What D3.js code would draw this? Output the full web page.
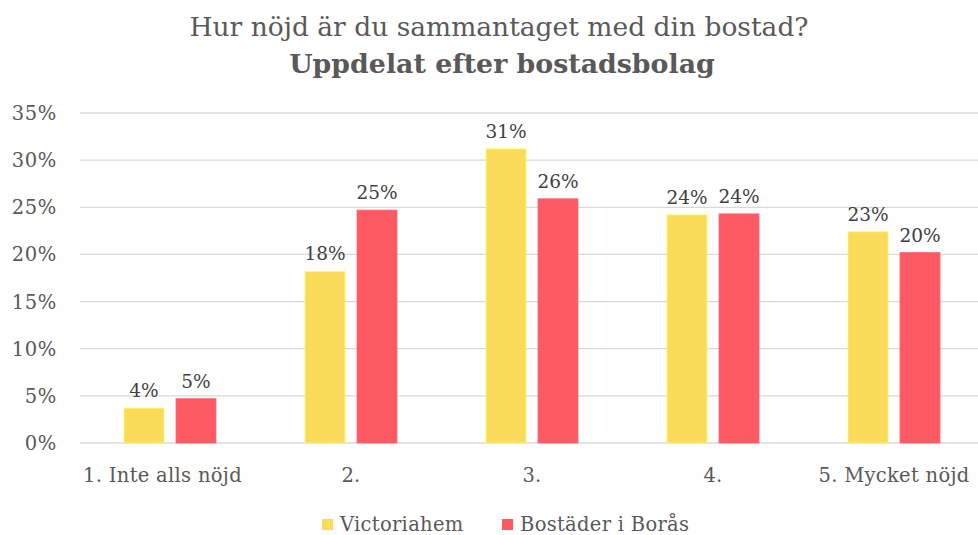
<!DOCTYPE html>
<html><head><meta charset="utf-8">
<script src="https://cdn.jsdelivr.net/npm/d3@7/dist/d3.min.js"></script>
<style>body{margin:0;background:#fff}svg{display:block}</style>
</head><body>
<svg id="c" width="978" height="535"></svg>
<script>
const categories = ["1. Inte alls nöjd", "2.", "3.", "4.", "5. Mycket nöjd"];
const seriesNames = ["Victoriahem", "Bostäder i Borås"];
const victoriahem = [3.7, 18.2, 31.2, 24.2, 22.4];
const bostader = [4.7, 24.7, 25.9, 24.3, 20.2];
const labelsVictoriahem = ["4%", "18%", "31%", "24%", "23%"];
const labelsBostader = ["5%", "25%", "26%", "24%", "20%"];
const yTicks = [0, 5, 10, 15, 20, 25, 30, 35];
const colors = ["#FADB5A", "#FF5964"];

const svg = d3.select("#c");
const serif = "'DejaVu Serif', serif";
const axisFont = "'DejaVu Serif', serif";
const textCol = "#595959";

const x = d3.scaleBand().domain(categories).range([79.5, 984.5]);
const y = d3.scaleLinear().domain([0, 35]).range([443, 113]);
const inner = d3.scaleBand().domain([0, 1]).range([-46, 46]).paddingInner(0.2308);

// gridlines
svg.append("g").selectAll("line").data(yTicks).join("line")
  .attr("x1", 80).attr("x2", 978)
  .attr("y1", d => y(d)).attr("y2", d => y(d))
  .attr("stroke", "#d9d9d9").attr("stroke-width", 1.3);

// y labels
svg.append("g").selectAll("text").data(yTicks).join("text")
  .attr("x", 57).attr("y", d => y(d) + 7)
  .attr("text-anchor", "end").attr("font-family", axisFont).attr("font-size", 19.5).attr("letter-spacing", 0.6)
  .attr("fill", textCol).text(d => d + "%");

const series = [victoriahem, bostader];
const labels = [labelsVictoriahem, labelsBostader];
series.forEach((vals, si) => {
  const g = svg.append("g");
  g.selectAll("rect").data(vals).join("rect")
    .attr("x", (d, i) => x(categories[i]) + x.bandwidth() / 2 + inner(si))
    .attr("width", inner.bandwidth())
    .attr("y", d => y(d)).attr("height", d => y(0) - y(d))
    .attr("fill", colors[si]).attr("stroke", d3.color(colors[si]).brighter(0.4)).attr("stroke-width", 0.8);
  g.selectAll("text").data(vals).join("text")
    .attr("x", (d, i) => x(categories[i]) + x.bandwidth() / 2 + inner(si) + inner.bandwidth() / 2)
    .attr("y", d => y(d) - 11)
    .attr("text-anchor", "middle").attr("font-family", serif).attr("font-size", 18.5)
    .attr("fill", "#404040").text((d, i) => labels[si][i]);
});

// x labels
svg.append("g").selectAll("text").data(categories).join("text")
  .attr("x", (d, i) => x(d) + x.bandwidth() / 2 - (i === 0 ? 7.5 : 0)).attr("y", 482)
  .attr("text-anchor", "middle").attr("font-family", axisFont).attr("font-size", 19.5).attr("letter-spacing", 0.3)
  .attr("fill", textCol).text(d => d);

// title
svg.append("text").attr("x", 499).attr("y", 36).attr("text-anchor", "middle")
  .attr("font-family", serif).attr("font-size", 26.5).attr("fill", textCol)
  .text("Hur nöjd är du sammantaget med din bostad?");
svg.append("text").attr("x", 502).attr("y", 73).attr("text-anchor", "middle")
  .attr("font-family", serif).attr("font-weight", "bold").attr("font-size", 26.8).attr("fill", textCol)
  .text("Uppdelat efter bostadsbolag");

// legend
const legX = [322, 502];
seriesNames.forEach((n, i) => {
  svg.append("rect").attr("x", legX[i]).attr("y", 519).attr("width", 11).attr("height", 11).attr("fill", colors[i]);
  svg.append("text").attr("x", legX[i] + 18).attr("y", 531)
    .attr("font-family", axisFont).attr("font-size", 19.5).attr("letter-spacing", 0.3).attr("fill", textCol).text(n);
});
</script>
</body></html>
